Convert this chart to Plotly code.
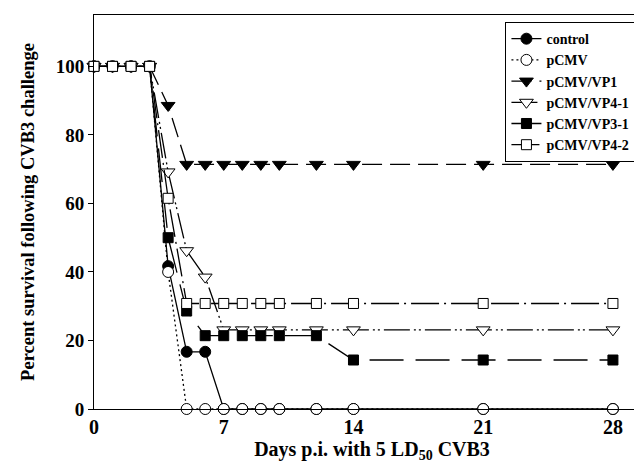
import plotly.graph_objects as go

days = [0, 1, 2, 3, 4, 5, 6, 7, 8, 9, 10, 12, 14, 21, 28]
control = [100, 100, 100, 100, 41.7, 16.7, 16.7, 0, 0, 0, 0, 0, 0, 0, 0]
pcmv = [100, 100, 100, 100, 40, 0, 0, 0, 0, 0, 0, 0, 0, 0, 0]
vp1 = [100, 100, 100, 100, 88.6, 71.4, 71.4, 71.4, 71.4, 71.4, 71.4, 71.4, 71.4, 71.4, 71.4]
vp4_1 = [100, 100, 100, 100, 69.2, 46.2, 38.5, 23.1, 23.1, 23.1, 23.1, 23.1, 23.1, 23.1, 23.1]
vp3_1 = [100, 100, 100, 100, 50, 28.6, 21.4, 21.4, 21.4, 21.4, 21.4, 21.4, 14.3, 14.3, 14.3]
vp4_2 = [100, 100, 100, 100, 61.5, 30.8, 30.8, 30.8, 30.8, 30.8, 30.8, 30.8, 30.8, 30.8, 30.8]

names = ["control", "pCMV", "pCMV/VP1", "pCMV/VP4-1", "pCMV/VP3-1", "pCMV/VP4-2"]
series = [control, pcmv, vp1, vp4_1, vp3_1, vp4_2]
x_ticks = [0, 7, 14, 21, 28]
y_ticks = [0, 20, 40, 60, 80, 100]

styles = [
    dict(symbol="circle", fill="black", size=11, dash="solid"),
    dict(symbol="circle", fill="white", size=11, dash="2px,3px"),
    dict(symbol="triangle-down", fill="black", size=12, dash="20px,8px"),
    dict(symbol="triangle-down", fill="white", size=12, dash="26px,4px,2px,3px,2px,4px"),
    dict(symbol="square", fill="black", size=10, dash="34px,12px"),
    dict(symbol="square", fill="white", size=10, dash="28px,5px,2px,5px"),
]

font_family = "Liberation Serif, Times New Roman, serif"

fig = go.Figure()
for name, ys, st in zip(names, series, styles):
    fig.add_trace(go.Scatter(
        x=days, y=ys, name=name, mode="lines+markers",
        cliponaxis=False,
        line=dict(color="black", width=1.3, dash=st["dash"]),
        marker=dict(symbol=st["symbol"], size=st["size"], color=st["fill"],
                    line=dict(color="black", width=1)),
    ))

fig.update_layout(
    width=642, height=467,
    margin=dict(l=86, r=0, t=7, b=66),
    paper_bgcolor="white", plot_bgcolor="white",
    font=dict(family=font_family, size=16, color="black", weight="bold"),
    showlegend=True,
    legend=dict(
        x=0.74, y=0.982, xanchor="left", yanchor="top",
        bordercolor="black", borderwidth=1, bgcolor="white",
        font=dict(family=font_family, size=14, color="black", weight="bold"),
        itemwidth=30, tracegroupgap=0,
    ),
    xaxis=dict(
        range=[0, 30], tickvals=x_ticks, ticktext=[str(t) for t in x_ticks],
        showgrid=False, zeroline=False,
        showline=True, linecolor="black", linewidth=1, mirror=True,
        ticks="", tickfont=dict(size=20, weight="bold"),
        title=dict(text="Days p.i. with 5 LD<sub>50</sub> CVB3",
                   font=dict(size=20, weight="bold"), standoff=0),
    ),
    yaxis=dict(
        range=[0, 115], tickvals=y_ticks, ticktext=[str(t) for t in y_ticks],
        showgrid=False, zeroline=False,
        showline=True, linecolor="black", linewidth=1,
        ticks="outside", ticklen=5, tickcolor="black",
        tickfont=dict(size=19, weight="bold"),
        title=dict(text="Percent survival following CVB3 challenge",
                   font=dict(size=18.5, weight="bold"), standoff=16),
    ),
)

fig.write_html("out.html")
